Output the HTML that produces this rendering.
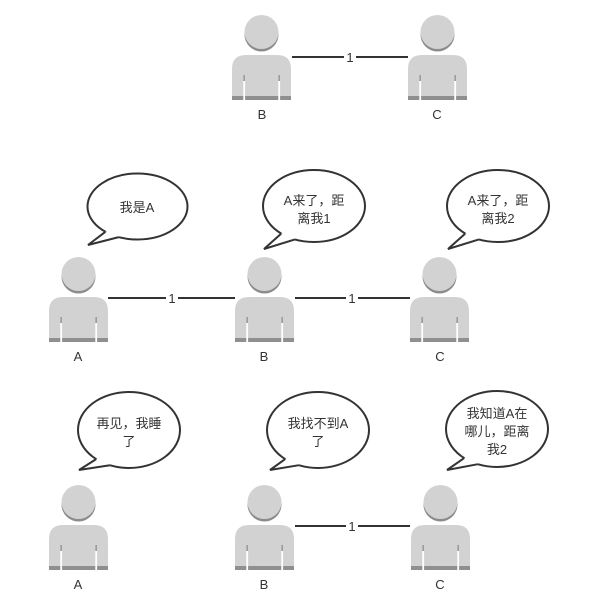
<!DOCTYPE html>
<html><head><meta charset="utf-8"><style>
html,body{margin:0;padding:0;background:#fff;}
svg{display:block;}
text{font-family:"Liberation Sans","Noto Sans CJK SC",sans-serif;fill:#333;}
</style></head><body>
<svg width="610" height="600" viewBox="0 0 610 600" xmlns="http://www.w3.org/2000/svg">
<defs>
<g id="p">
  <circle cx="29.5" cy="19.5" r="17" fill="#8c8c8c"/>
  <circle cx="29.5" cy="17" r="17" fill="#d2d2d2"/>
  <path d="M0 54 Q0 40 14 40 L45 40 Q59 40 59 54 L59 85 L0 85 Z" fill="#d2d2d2"/>
  <rect x="0" y="81" width="59" height="4" fill="#8f8f8f"/>
  <rect x="11.5" y="60" width="1.3" height="6" fill="#8f8f8f"/>
  <rect x="46.5" y="60" width="1.3" height="6" fill="#8f8f8f"/>
  <rect x="11.3" y="66" width="1.8" height="19" fill="#fff"/>
  <rect x="46.3" y="66" width="1.8" height="19" fill="#fff"/>
</g>
</defs>
<g stroke="#333" stroke-width="2">
<line x1="292" y1="57" x2="408" y2="57"/>
<line x1="108" y1="298" x2="235" y2="298"/>
<line x1="295" y1="298" x2="410" y2="298"/>
<line x1="295" y1="526" x2="410" y2="526"/>
</g>
<g font-size="13" text-anchor="middle">
<rect x="344" y="50" width="12" height="14" fill="#fff"/><text x="350" y="62">1</text>
<rect x="166" y="291" width="12" height="14" fill="#fff"/><text x="172" y="303">1</text>
<rect x="346" y="291" width="12" height="14" fill="#fff"/><text x="352" y="303">1</text>
<rect x="346" y="519" width="12" height="14" fill="#fff"/><text x="352" y="531">1</text>
</g>
<use href="#p" x="232" y="15"/>
<use href="#p" x="408" y="15"/>
<use href="#p" x="49" y="257"/>
<use href="#p" x="235" y="257"/>
<use href="#p" x="410" y="257"/>
<use href="#p" x="49" y="485"/>
<use href="#p" x="235" y="485"/>
<use href="#p" x="411" y="485"/>
<g font-size="13" text-anchor="middle">
<text x="262" y="119">B</text><text x="437" y="119">C</text>
<text x="78" y="361">A</text><text x="264" y="361">B</text><text x="440" y="361">C</text>
<text x="78" y="589">A</text><text x="264" y="589">B</text><text x="440" y="589">C</text>
</g>
<g stroke="#333" stroke-width="2" fill="#fff">
<ellipse cx="137.5" cy="206.5" rx="50" ry="33"/>
<polygon points="105.4,231.8 88,245 118.8,237.1 125,225" stroke="none"/>
<polyline points="105.4,231.8 88,245 118.8,237.1" fill="none"/>

<ellipse cx="314" cy="206" rx="51" ry="36"/>
<polygon points="281.2,233.6 264,249 294.9,239.4 300,225" stroke="none"/>
<polyline points="281.2,233.6 264,249 294.9,239.4" fill="none"/>

<ellipse cx="498" cy="206" rx="51" ry="36"/>
<polygon points="465.2,233.6 448,249 478.9,239.4 484,225" stroke="none"/>
<polyline points="465.2,233.6 448,249 478.9,239.4" fill="none"/>

<ellipse cx="129" cy="430" rx="51" ry="38"/>
<polygon points="96.2,459.1 79,470 109.9,465.2 115,450" stroke="none"/>
<polyline points="96.2,459.1 79,470 109.9,465.2" fill="none"/>

<ellipse cx="318" cy="430" rx="51" ry="38"/>
<polygon points="285.2,459.1 270,470 298.9,465.2 304,450" stroke="none"/>
<polyline points="285.2,459.1 270,470 298.9,465.2" fill="none"/>

<ellipse cx="497" cy="429" rx="51" ry="38"/>
<polygon points="464.2,458.1 447,470 477.9,464.2 483,449" stroke="none"/>
<polyline points="464.2,458.1 447,470 477.9,464.2" fill="none"/>
</g>
<g font-size="13" text-anchor="middle">
<text x="137" y="212">我是A</text>
<text x="314" y="205">A来了，距</text><text x="314" y="223">离我1</text>
<text x="498" y="205">A来了，距</text><text x="498" y="223">离我2</text>
<text x="129" y="428">再见，我睡</text><text x="129" y="446">了</text>
<text x="318" y="428">我找不到A</text><text x="318" y="446">了</text>
<text x="497" y="418">我知道A在</text><text x="497" y="436">哪儿，距离</text><text x="497" y="454">我2</text>
</g>
</svg>
</body></html>
